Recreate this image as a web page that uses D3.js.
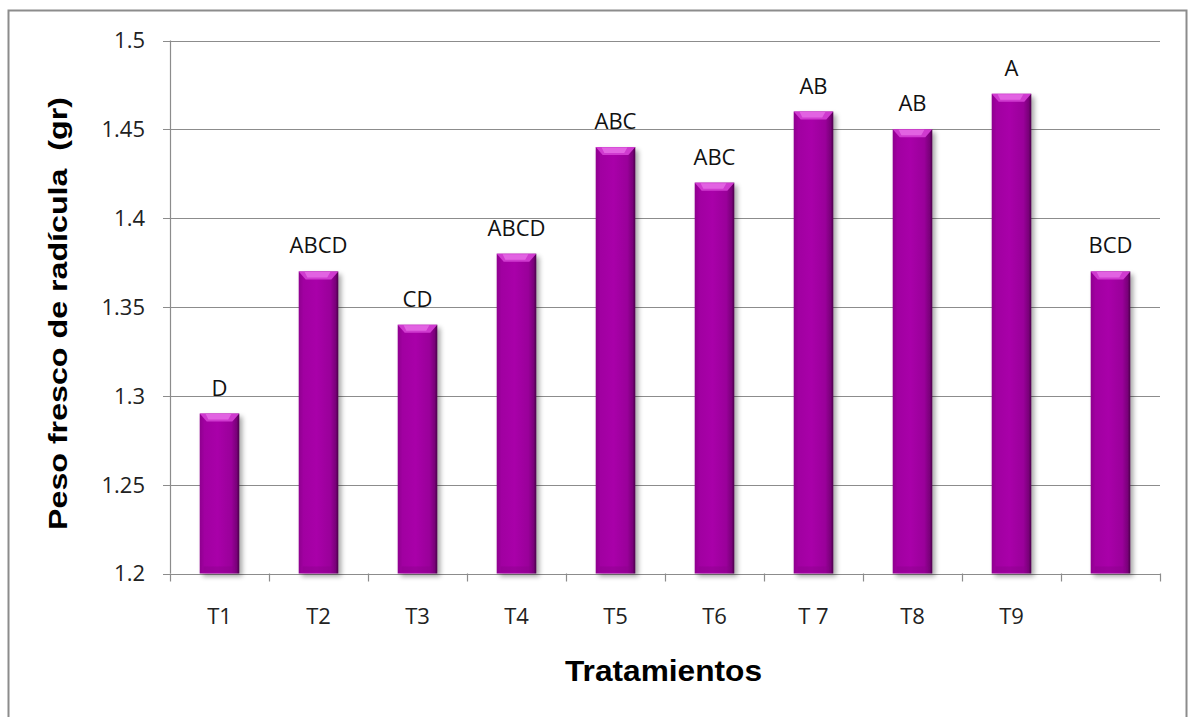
<!DOCTYPE html>
<html><head><meta charset="utf-8">
<script src="https://cdn.jsdelivr.net/npm/d3@7"></script>
<style>body{margin:0;background:#fff}</style>
</head><body>
<svg id="c" width="1189" height="717"></svg>
<script>
const categories = ["T1","T2","T3","T4","T5","T6","T 7","T8","T9",""];
const values = [1.29,1.37,1.34,1.38,1.44,1.42,1.46,1.45,1.47,1.37];
const letters = ["D","ABCD","CD","ABCD","ABC","ABC","AB","AB","A","BCD"];
const yTicks = [1.2,1.25,1.3,1.35,1.4,1.45,1.5];
const yTickLabels = ["1.2","1.25","1.3","1.35","1.4","1.45","1.5"];

const svg = d3.select("#c");
const L=170, R=1160, T=40.5, B=573.5;
const x = d3.scaleBand().domain(d3.range(categories.length)).range([L,R]).paddingInner(0.6).paddingOuter(0.3);
const xb = d3.scaleBand().domain(d3.range(categories.length)).range([L,R]);
const y = d3.scaleLinear().domain([1.2,1.5]).range([B,T]);
const FONT = "Open Sans, Liberation Sans, sans-serif";

const defs = svg.append("defs");
const g = defs.append("linearGradient").attr("id","bar").attr("x1","0").attr("x2","1").attr("y1","0").attr("y2","0");
[[0,"#8e008e"],[0.12,"#a100a1"],[0.45,"#a900a9"],[0.8,"#9a009a"],[0.93,"#7a007a"],[1,"#4a004a"]].forEach(s=>g.append("stop").attr("offset",s[0]).attr("stop-color",s[1]));
const f = defs.append("filter").attr("id","sh").attr("x","-20%").attr("y","-5%").attr("width","150%").attr("height","115%");
f.append("feGaussianBlur").attr("in","SourceAlpha").attr("stdDeviation","2.5");
f.append("feOffset").attr("dx","3").attr("dy","3").attr("result","b");
f.append("feComponentTransfer").append("feFuncA").attr("type","linear").attr("slope","0.35");
const m = f.append("feMerge"); m.append("feMergeNode"); m.append("feMergeNode").attr("in","SourceGraphic");

// outer border
svg.append("rect").attr("x",8.5).attr("y",10.5).attr("width",1178).attr("height",720).attr("fill","none").attr("stroke","#8c8c8c").attr("stroke-width",2);

// gridlines
svg.append("g").selectAll("line").data(yTicks).join("line")
  .attr("x1",L-7).attr("x2",R).attr("y1",d=>Math.round(y(d))+0.5).attr("y2",d=>Math.round(y(d))+0.5)
  .attr("stroke","#8c8c8c").attr("stroke-width",1.2);
// y axis line
svg.append("line").attr("x1",L+0.5).attr("x2",L+0.5).attr("y1",T).attr("y2",B).attr("stroke","#8c8c8c").attr("stroke-width",1.2);
// x ticks
const xt = d3.range(categories.length+1).map(i=> i<categories.length ? xb(i) : R);
svg.append("g").selectAll("line").data(xt).join("line")
  .attr("x1",d=>d+0.5).attr("x2",d=>d+0.5).attr("y1",B).attr("y2",B+8).attr("stroke","#8c8c8c").attr("stroke-width",1.2);

// y labels
svg.append("g").selectAll("text").data(yTicks).join("text")
  .attr("x",L-25).attr("y",d=>y(d)).attr("dy","0.36em").attr("text-anchor","end")
  .attr("font-family",FONT).attr("font-size",22).attr("fill","#222")
  .text((d,i)=>yTickLabels[i]);

// bars
const bars = svg.append("g").selectAll("g").data(values).join("g");
bars.append("rect").attr("x",(d,i)=>x(i)).attr("y",d=>y(d)).attr("width",x.bandwidth()).attr("height",d=>B-y(d))
  .attr("fill","url(#bar)").attr("filter","url(#sh)");
bars.append("path").attr("d",(d,i)=>{const x0=x(i),w=x.bandwidth(),y0=y(d);return `M${x0},${y0}L${x0+w},${y0}L${x0+w-7},${y0+8}L${x0+7},${y0+8}Z`;})
  .attr("fill","#cf3acf");
bars.append("path").attr("d",(d,i)=>{const x0=x(i),w=x.bandwidth(),y0=y(d);return `M${x0+w*0.15},${y0+0.5}L${x0+w*0.8},${y0+0.5}L${x0+w*0.72},${y0+6}L${x0+w*0.22},${y0+6}Z`;})
  .attr("fill","#e872e8").attr("opacity",0.75);
bars.append("rect").attr("x",(d,i)=>x(i)+4).attr("y",B-7).attr("width",x.bandwidth()-8).attr("height",6).attr("fill","#8a008a").attr("opacity",0.4);

// letters
svg.append("g").selectAll("text").data(values).join("text")
  .attr("x",(d,i)=>x(i)+x.bandwidth()/2).attr("y",d=>y(d)-18).attr("text-anchor","middle")
  .attr("font-family",FONT).attr("font-size",22).attr("fill","#111")
  .text((d,i)=>letters[i]);

// category labels
svg.append("g").selectAll("text").data(categories).join("text")
  .attr("x",(d,i)=>xb(i)+xb.bandwidth()/2).attr("y",624).attr("text-anchor","middle")
  .attr("font-family",FONT).attr("font-size",22).attr("fill","#222")
  .text(d=>d);

// axis titles
svg.append("text").attr("x",663.5).attr("y",681).attr("text-anchor","middle")
  .attr("font-family","Liberation Sans, Arial, sans-serif").attr("font-weight","bold").attr("font-size",30).attr("fill","#000")
  .attr("textLength",197).attr("lengthAdjust","spacingAndGlyphs")
  .text("Tratamientos");
svg.append("text").attr("transform",`translate(67,313.5) rotate(-90)`).attr("text-anchor","middle")
  .attr("font-family","Liberation Sans, Arial, sans-serif").attr("font-weight","bold").attr("font-size",26).attr("fill","#000")
  .attr("textLength",433).attr("lengthAdjust","spacingAndGlyphs")
  .attr("xml:space","preserve").text("Peso fresco de radícula  (gr)");
</script>
</body></html>
